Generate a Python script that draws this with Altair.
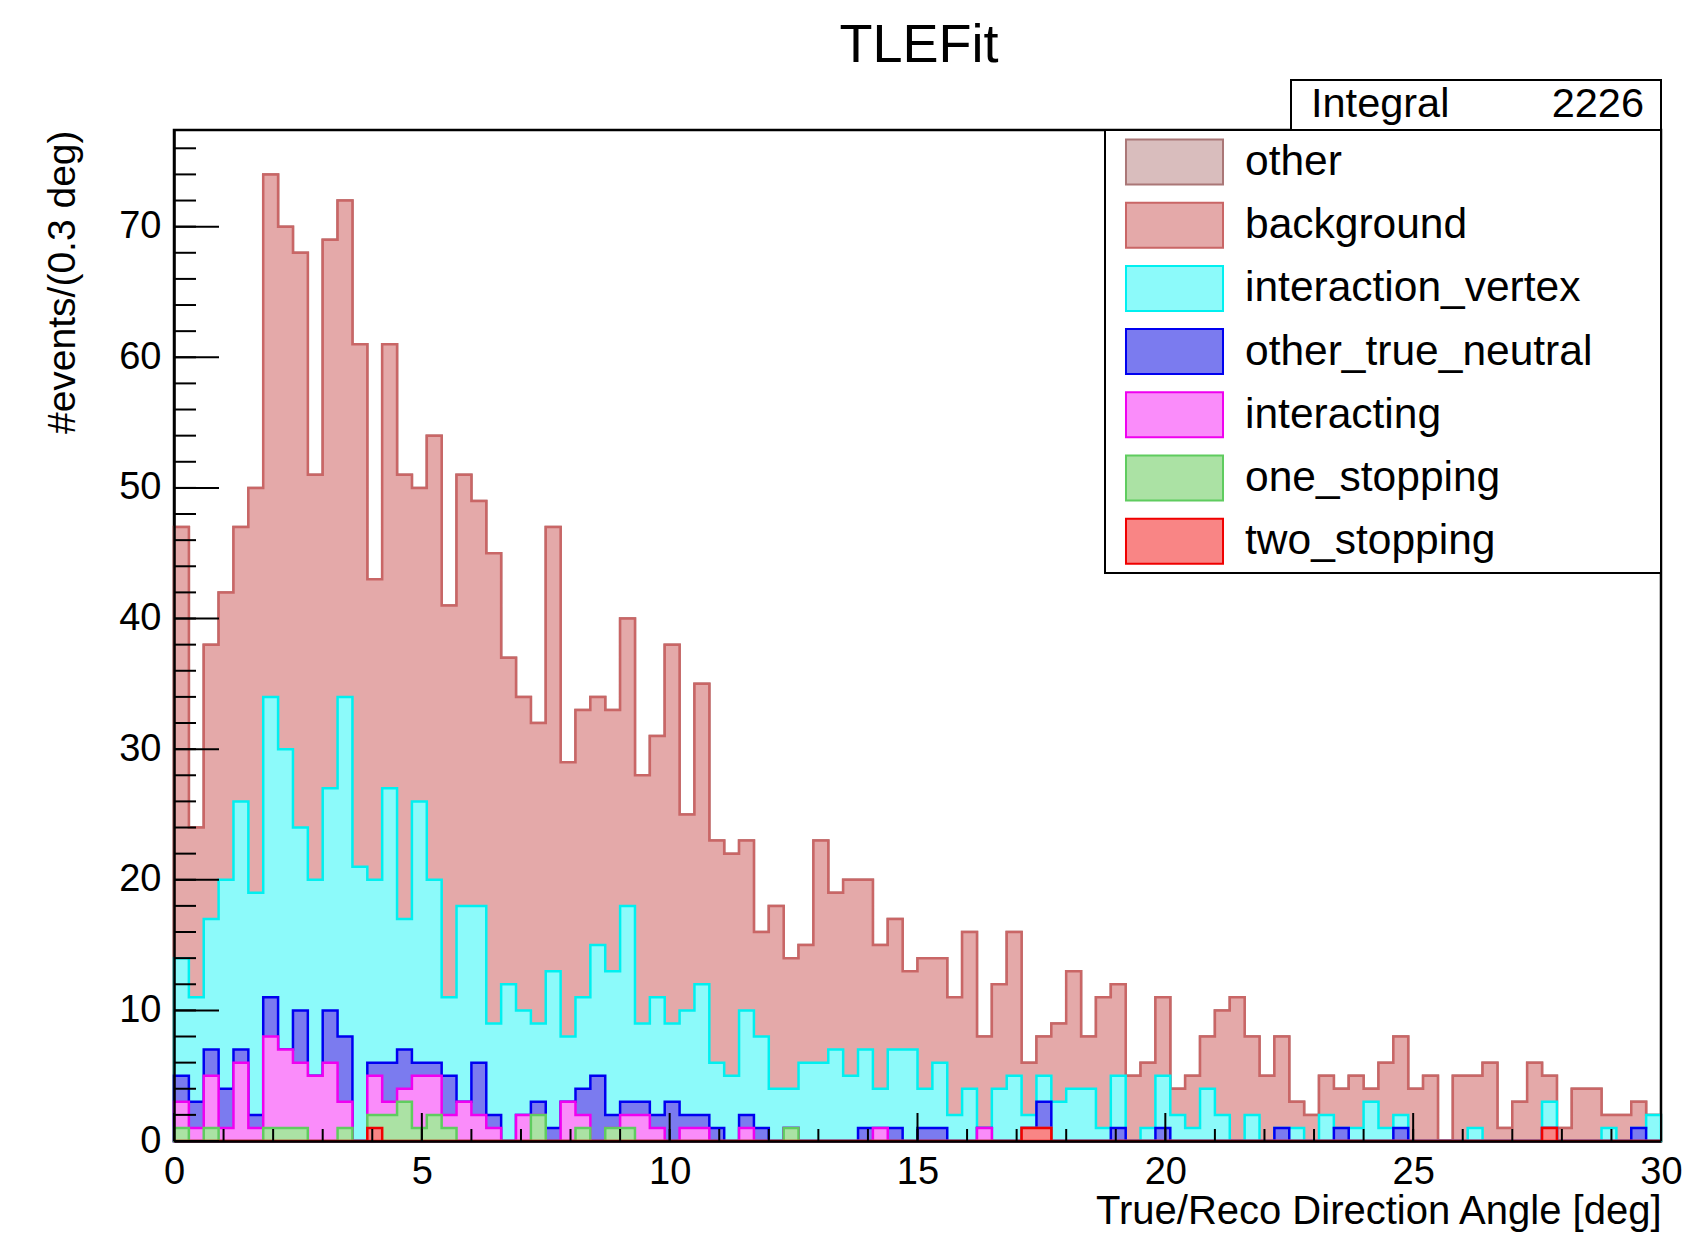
import altair as alt
import pandas as pd

FONT = "Liberation Sans"

# ---- histogram definition (100 bins, 0..30 deg) ----
X_MIN = 0.0
BIN_W = 0.3
NBINS = 100

title_text = "TLEFit"
x_title = "True/Reco Direction Angle [deg]"
y_title = "#events/(0.3 deg)"
x_tick_values = [0, 5, 10, 15, 20, 25, 30]
y_tick_values = [0, 10, 20, 30, 40, 50, 60, 70]

# ---- per-bin contents of each component ----
two_stopping = [
    0, 0, 0, 0, 0, 0, 0, 0, 0, 0,
    0, 0, 0, 1, 0, 0, 0, 0, 0, 0,
    0, 0, 0, 0, 0, 0, 0, 0, 0, 0,
    0, 0, 0, 0, 0, 0, 0, 0, 0, 0,
    0, 0, 0, 0, 0, 0, 0, 0, 0, 0,
    0, 0, 0, 0, 0, 0, 0, 1, 1, 0,
    0, 0, 0, 0, 0, 0, 0, 0, 0, 0,
    0, 0, 0, 0, 0, 0, 0, 0, 0, 0,
    0, 0, 0, 0, 0, 0, 0, 0, 0, 0,
    0, 0, 1, 0, 0, 0, 0, 0, 0, 0,
]
one_stopping = [
    1, 0, 1, 0, 0, 0, 1, 1, 1, 0,
    0, 1, 0, 1, 2, 3, 1, 2, 1, 0,
    0, 0, 0, 0, 2, 0, 0, 1, 0, 1,
    1, 0, 0, 0, 0, 0, 0, 0, 0, 0,
    0, 1, 0, 0, 0, 0, 0, 0, 0, 0,
    0, 0, 0, 0, 0, 0, 0, 0, 0, 0,
    0, 0, 0, 0, 0, 0, 0, 0, 0, 0,
    0, 0, 0, 0, 0, 0, 0, 0, 0, 0,
    0, 0, 0, 0, 0, 0, 0, 0, 0, 0,
    0, 0, 0, 0, 0, 0, 0, 0, 0, 0,
]
interacting = [
    2, 1, 4, 1, 6, 1, 7, 6, 5, 5,
    6, 2, 0, 3, 1, 1, 4, 3, 1, 3,
    2, 1, 0, 2, 0, 0, 3, 1, 0, 0,
    1, 2, 1, 0, 1, 1, 0, 0, 1, 0,
    0, 0, 0, 0, 0, 0, 0, 1, 0, 0,
    0, 0, 0, 0, 1, 0, 0, 0, 0, 0,
    0, 0, 0, 0, 0, 0, 0, 0, 0, 0,
    0, 0, 0, 0, 0, 0, 0, 0, 0, 0,
    0, 0, 0, 0, 0, 0, 0, 0, 0, 0,
    0, 0, 0, 0, 0, 0, 0, 0, 0, 0,
]
other_true_neutral = [
    2, 2, 2, 3, 1, 1, 3, 0, 4, 0,
    4, 5, 0, 1, 3, 3, 1, 1, 3, 0,
    4, 1, 0, 0, 1, 1, 0, 2, 5, 1,
    1, 1, 1, 3, 1, 1, 1, 0, 1, 1,
    0, 0, 0, 0, 0, 0, 1, 0, 1, 0,
    1, 1, 0, 0, 0, 0, 0, 0, 2, 0,
    0, 0, 0, 1, 0, 0, 1, 0, 0, 0,
    0, 0, 0, 0, 1, 0, 0, 0, 1, 0,
    0, 0, 1, 0, 0, 0, 0, 0, 0, 0,
    0, 0, 0, 0, 0, 0, 0, 0, 1, 0,
]
interaction_vertex = [
    9, 8, 10, 16, 19, 17, 23, 23, 14, 15,
    17, 26, 21, 14, 21, 10, 20, 14, 6, 15,
    12, 7, 12, 8, 6, 12, 5, 7, 10, 11,
    15, 6, 9, 6, 8, 10, 5, 5, 8, 7,
    4, 3, 6, 6, 7, 5, 6, 3, 6, 7,
    3, 5, 2, 4, 0, 4, 5, 1, 2, 3,
    4, 4, 1, 4, 0, 1, 4, 2, 1, 4,
    2, 0, 2, 0, 0, 1, 0, 2, 0, 1,
    3, 1, 1, 0, 0, 0, 0, 1, 0, 0,
    0, 0, 2, 0, 0, 0, 1, 0, 0, 2,
]
background = [
    33, 13, 21, 22, 21, 31, 40, 40, 44, 31,
    42, 38, 40, 23, 34, 34, 24, 34, 30, 33,
    31, 36, 25, 24, 23, 34, 21, 22, 19, 20,
    22, 19, 20, 29, 15, 23, 17, 17, 13, 8,
    14, 10, 9, 17, 12, 15, 13, 11, 10, 6,
    10, 8, 9, 12, 7, 8, 11, 4, 3, 6,
    9, 4, 10, 7, 5, 5, 6, 2, 4, 4,
    8, 11, 6, 5, 7, 2, 2, 3, 3, 4,
    1, 5, 6, 4, 5, 0, 5, 4, 6, 1,
    3, 6, 2, 1, 4, 4, 1, 2, 2, 0,
]
other = [0] * NBINS

# legend / stacking order, top of the stack first
components = ["other", "background", "interaction_vertex", "other_true_neutral",
              "interacting", "one_stopping", "two_stopping"]
fill_colors = ["#d9bdbd", "#e4a9a9", "#8cfafa", "#7b7bef", "#fa8cfa", "#abe2a4", "#f98585"]
line_colors = ["#aa7777", "#c96666", "#00f0f0", "#0000f0", "#f000f0", "#5fcc5f", "#f00000"]

series = {
    "other": other,
    "background": background,
    "interaction_vertex": interaction_vertex,
    "other_true_neutral": other_true_neutral,
    "interacting": interacting,
    "one_stopping": one_stopping,
    "two_stopping": two_stopping,
}

# cumulative (stacked) contour of each component, as step data on bin edges
running = [0] * NBINS
rows = []
for name in components[::-1]:
    running = [a + b for a, b in zip(running, series[name])]
    vals = running + [running[-1]]
    for i, v in enumerate(vals):
        rows.append({"x": round(X_MIN + i * BIN_W, 4), "y": v, "comp": name})
hist = pd.DataFrame(rows)

integral = sum(sum(v) for v in series.values())

# ---- geometry ----
W, H = 1487, 1011
Y_MAX = 77.4

xs = alt.Scale(domain=[0, 30], nice=False, zero=False)
ys = alt.Scale(domain=[0, Y_MAX], nice=False, zero=True)

x_axis = alt.Axis(
    values=x_tick_values, format="d", grid=False,
    labelFont=FONT, labelFontSize=38, labelColor="black", labelPadding=12,
    labelFlush=False, labelOverlap=False,
    ticks=True, tickSize=0,
    domainColor="black", domainWidth=2.5,
    title=x_title, titleFont=FONT, titleFontSize=40, titleFontWeight="normal",
    titleColor="black", titleX=W, titleY=82, titleAlign="right",
    titleBaseline="alphabetic", zindex=1,
)
y_axis = alt.Axis(
    values=y_tick_values, format="d", grid=False,
    labelFont=FONT, labelFontSize=38, labelColor="black", labelPadding=13,
    labelOverlap=False,
    ticks=True, tickSize=0,
    domainColor="black", domainWidth=2.5,
    title=y_title, titleFont=FONT, titleFontSize=39, titleFontWeight="normal",
    titleColor="black", titleX=-112, titleY=0, titleAngle=270,
    titleAlign="right", titleBaseline="middle", zindex=1,
)

xenc = alt.X("x:Q", scale=xs, axis=x_axis)
yenc = alt.Y("y:Q", scale=ys, axis=y_axis, stack=None)

# wide ROOT-like swatch: 97 x 45 px drawn from a 45 px symbol box
legend = alt.Legend(
    orient="none", legendX=977, legendY=8.5, title=None,
    symbolType="M-2.156,-1L2.156,-1L2.156,1L-2.156,1Z",
    symbolSize=2025, symbolStrokeWidth=2, symbolOpacity=1,
    labelFont=FONT, labelFontSize=42.5, labelColor="black",
    labelOffset=47, rowPadding=10.2, padding=0, labelLimit=1000,
)
fill_enc = alt.Fill("comp:N", scale=alt.Scale(domain=components, range=fill_colors), legend=legend)
stroke_enc = alt.Stroke("comp:N", scale=alt.Scale(domain=components, range=line_colors), legend=legend)

layers = []
for name in components:
    layers.append(
        alt.Chart(hist)
        .transform_filter(alt.datum.comp == name)
        .mark_area(interpolate="step-after", strokeWidth=2.5, opacity=1, fillOpacity=1)
        .encode(x=xenc, y=yenc, fill=fill_enc, stroke=stroke_enc)
    )

# ROOT-style inward tick marks
y_minor = pd.DataFrame({"y": list(range(0, 77, 2))})
y_major = pd.DataFrame({"y": y_tick_values})
x_minor = pd.DataFrame({"x": list(range(0, 31, 1))})
x_major = pd.DataFrame({"x": x_tick_values})

layers.append(alt.Chart(y_minor).mark_rule(color="black", strokeWidth=2).encode(
    y=yenc, x=alt.value(0), x2=alt.value(22)))
layers.append(alt.Chart(y_major).mark_rule(color="black", strokeWidth=2).encode(
    y=yenc, x=alt.value(0), x2=alt.value(45)))
layers.append(alt.Chart(x_minor).mark_rule(color="black", strokeWidth=2).encode(
    x=xenc, y=alt.value(H), y2=alt.value(H - 12)))
layers.append(alt.Chart(x_major).mark_rule(color="black", strokeWidth=2).encode(
    x=xenc, y=alt.value(H), y2=alt.value(H - 28)))

one = pd.DataFrame({"t": [title_text]})
# legend frame
layers.append(alt.Chart(one).mark_rect(fill="white", stroke="black", strokeWidth=2).encode(
    x=alt.value(931), x2=alt.value(W), y=alt.value(0), y2=alt.value(443)))
# stats box
layers.append(alt.Chart(one).mark_rect(fill="white", stroke="black", strokeWidth=2).encode(
    x=alt.value(1117), x2=alt.value(W), y=alt.value(-50), y2=alt.value(0)))
layers.append(alt.Chart(pd.DataFrame({"t": ["Integral"]})).mark_text(
    font=FONT, fontSize=41.5, align="left", baseline="middle", color="black").encode(
    x=alt.value(1137), y=alt.value(-25), text="t:N"))
layers.append(alt.Chart(pd.DataFrame({"t": [str(integral)]})).mark_text(
    font=FONT, fontSize=41.5, align="right", baseline="middle", color="black").encode(
    x=alt.value(1470), y=alt.value(-25), text="t:N"))
# title
layers.append(alt.Chart(one).mark_text(
    font=FONT, fontSize=54, align="center", baseline="alphabetic", color="black").encode(
    x=alt.value(745), y=alt.value(-68), text="t:N"))

chart = (
    alt.layer(*layers)
    .properties(
        width=W, height=H,
        autosize=alt.AutoSizeParams(type="none"),
        padding={"left": 174, "top": 130, "right": 24, "bottom": 93},
        background="white",
    )
    .configure_view(stroke="black", strokeWidth=2.5)
)

chart.save("out.html", embed_options={"renderer": "svg", "actions": False})
